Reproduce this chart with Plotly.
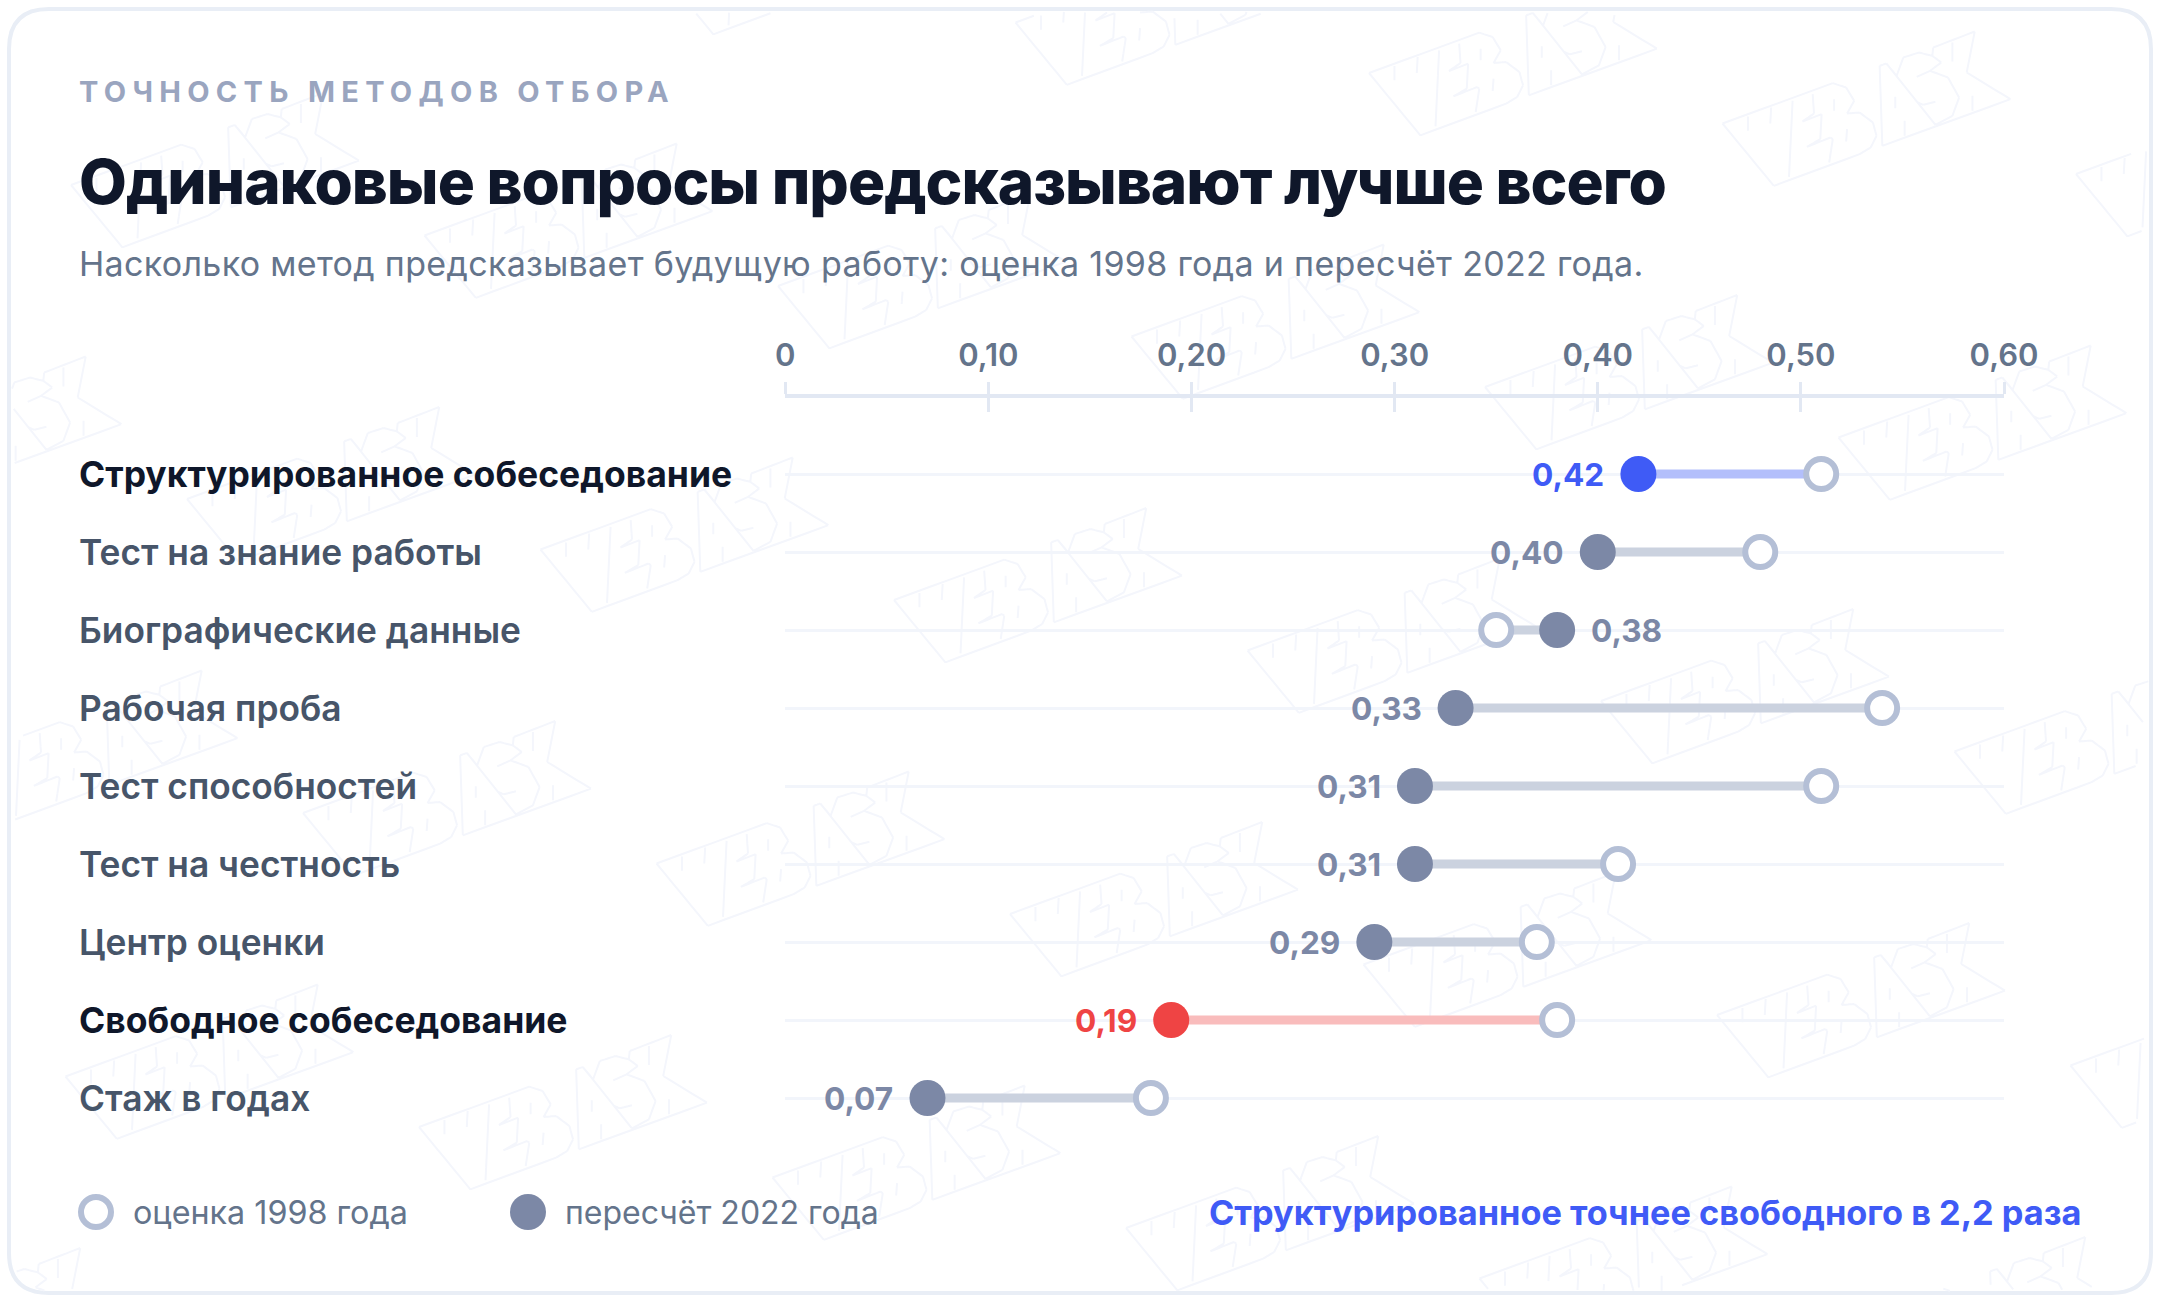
import json
import plotly.graph_objects as go

W, H = 2160, 1302

# ---------- data ----------
methods = ["Структурированное собеседование", "Тест на знание работы", "Биографические данные",
           "Рабочая проба", "Тест способностей", "Тест на честность", "Центр оценки",
           "Свободное собеседование", "Стаж в годах"]
est_1998 = [0.51, 0.48, 0.35, 0.54, 0.51, 0.41, 0.37, 0.38, 0.18]
rec_2022 = [0.42, 0.40, 0.38, 0.33, 0.31, 0.31, 0.29, 0.19, 0.07]
tick_vals = [0, 0.1, 0.2, 0.3, 0.4, 0.5, 0.6]
tick_text = ["0", "0,10", "0,20", "0,30", "0,40", "0,50", "0,60"]

BLUE, RED, SLATE = "#3f5bf6", "#ef4444", "#7c88a6"
dot_colors = [BLUE, SLATE, SLATE, SLATE, SLATE, SLATE, SLATE, RED, SLATE]
link_colors = ["#b3bffb", "#cbd2df", "#cbd2df", "#cbd2df", "#cbd2df", "#cbd2df", "#cbd2df", "#f9bcbc", "#cbd2df"]
RING = "#b4bfd6"
GRID = "#f2f5fb"
AXIS = "#e2e8f3"
FONT = "Inter"

TITLE = "Одинаковые вопросы предсказывают лучше всего"
EYEBROW = "ТОЧНОСТЬ МЕТОДОВ ОТБОРА"
SUB = "Насколько метод предсказывает будущую работу: оценка 1998 года и пересчёт 2022 года."
spacing = {EYEBROW: "6.3px", TITLE: "-1px", SUB: "0.33px"}


def px(x):
    return x / W


def py(y):
    return 1 - y / H


fig = go.Figure()

# connectors
for m, a, b, c in zip(methods, est_1998, rec_2022, link_colors):
    fig.add_trace(go.Scatter(x=[a, b], y=[m, m], mode="lines", line=dict(color=c, width=9),
                             showlegend=False, hoverinfo="skip"))
# dots
fig.add_trace(go.Scatter(x=est_1998, y=methods, mode="markers", name="оценка 1998 года", showlegend=False,
                         marker=dict(size=30, color="white", line=dict(color=RING, width=6)), cliponaxis=False))
fig.add_trace(go.Scatter(x=rec_2022, y=methods, mode="markers", name="пересчёт 2022 года", showlegend=False,
                         marker=dict(size=36, color=dot_colors, line=dict(width=0)), cliponaxis=False))
# second axis only carries the lower half of the ticks
fig.add_trace(go.Scatter(x=[0], y=[methods[0]], xaxis="x2", mode="markers", marker=dict(opacity=0),
                         showlegend=False, hoverinfo="skip"))

ann = []


def text(x, y, s, size, color, weight=400, anchor="left"):
    ann.append(dict(x=px(x), y=py(y), xref="paper", yref="paper", text=s, showarrow=False, xanchor=anchor,
                    yanchor="middle", align=anchor, font=dict(family=FONT, size=size, color=color, weight=weight)))


text(76.6, 92, EYEBROW, 29, "#9aa5bf", 700)
text(76.6, 182, TITLE, 62, "#0f172a", 800)
text(76.6, 263, SUB, 34, "#64748b", 400)

for i, m in enumerate(methods):
    strong = dot_colors[i] != SLATE
    ann.append(dict(x=px(76.6), y=m, xref="paper", yref="y", text=m, showarrow=False, xanchor="left", yanchor="middle",
                    font=dict(family=FONT, size=35.5 if strong else 35.3, color="#0f172a" if strong else "#475569",
                              weight=700 if strong else 600)))
    right = rec_2022[i] > est_1998[i]
    ann.append(dict(x=rec_2022[i], y=m, xref="x", yref="y", text=f"{rec_2022[i]:.2f}".replace(".", ","),
                    showarrow=False, xanchor="left" if right else "right", yanchor="middle",
                    xshift=32 if right else -32,
                    font=dict(family=FONT, size=31.6, color=dot_colors[i], weight=700)))

text(130.5, 1212, "оценка 1998 года", 32.3, "#64748b", 400)
text(562.5, 1212, "пересчёт 2022 года", 32, "#64748b", 400)
text(2083, 1212, "Структурированное точнее свободного в 2,2 раза", 34.3, BLUE, 700, "right")

shapes = []


def P(x, y):
    return f"{px(x):.5f},{py(y):.5f}"


# card
x0, y0, x1, y1, r = 9, 9, 2151, 1293, 40
card = (f"M{P(x0 + r, y0)} L{P(x1 - r, y0)} Q{P(x1, y0)} {P(x1, y0 + r)} L{P(x1, y1 - r)} Q{P(x1, y1)} {P(x1 - r, y1)} "
        f"L{P(x0 + r, y1)} Q{P(x0, y1)} {P(x0, y1 - r)} L{P(x0, y0 + r)} Q{P(x0, y0)} {P(x0 + r, y0)} Z")
shapes.append(dict(type="path", xref="paper", yref="paper", path=card, line=dict(color="#e9eef6", width=4),
                   fillcolor="white", layer="below"))

# background logo outline, one tile (in crop units)
web = [[(43, 218), (290, 97), (320, 110), (338, 150), (322, 188), (350, 185), (380, 215), (388, 255), (375, 290),
        (350, 310), (158, 405), (43, 218)],
       [(100, 197), (100, 240)], [(152, 170), (150, 218)], [(200, 150), (192, 378)],
       [(245, 130), (248, 188), (222, 212), (265, 190), (262, 265), (232, 288), (285, 260), (290, 265), (282, 335)],
       [(293, 145), (293, 180)], [(322, 235), (320, 272)]]
ask = [[(1193, 435), (1187, 195), (1202, 188), (1225, 225), (1240, 170), (1275, 155), (1305, 165), (1307, 140),
        (1400, 92), (1382, 215), (1480, 295), (1193, 435)],
       [(1202, 188), (1312, 372)], [(1222, 288), (1222, 322)], [(1243, 360), (1243, 405)],
       [(1270, 228), (1300, 210), (1340, 230), (1365, 290), (1350, 345), (1312, 372)],
       [(1270, 303), (1285, 312), (1312, 303)], [(1305, 165), (1325, 185), (1300, 210)],
       [(1350, 125), (1350, 182)], [(1395, 285), (1395, 330)]]
tile = [[((a - 43) / 2.24, (b - 218) / 3) for a, b in poly] for poly in web]
tile += [[((a - 835) / 2.24, (b - 368) / 3) for a, b in poly] for poly in ask]


def inside(x, y):
    m, R = 11, 38
    if not (m <= x <= W - m and m <= y <= H - m):
        return False
    cx = min(max(x, m + R), W - m - R)
    cy = min(max(y, m + R), H - m - R)
    return (x - cx) ** 2 + (y - cy) ** 2 <= R ** 2


segs = []
for i in range(-8, 9):
    for j in range(-3, 6):
        ox, oy = 1369 + i * 353.5 + j * 116, 73 + i * 50.5 + j * 314
        if not (-320 < ox < W + 20 and -100 < oy < H + 150):
            continue
        for poly in tile:
            prev = None
            for (a, b) in poly:
                a, b = a + ox, b + oy
                if prev is None:
                    prev = (a, b)
                    continue
                n = 6
                for k in range(1, n + 1):
                    q0 = (prev[0] + (a - prev[0]) * (k - 1) / n, prev[1] + (b - prev[1]) * (k - 1) / n)
                    q1 = (prev[0] + (a - prev[0]) * k / n, prev[1] + (b - prev[1]) * k / n)
                    if inside(*q0) and inside(*q1):
                        segs.append("M" + P(*q0) + " L" + P(*q1))
                prev = (a, b)
shapes.append(dict(type="path", xref="paper", yref="paper", path=" ".join(segs),
                   line=dict(color="#f4f6fc", width=2), layer="below"))

# legend swatches
shapes.append(dict(type="circle", xref="paper", yref="paper", x0=px(96 - 15), x1=px(96 + 15), y0=py(1212 + 15),
                   y1=py(1212 - 15), line=dict(color=RING, width=6), fillcolor="white", layer="above"))
shapes.append(dict(type="circle", xref="paper", yref="paper", x0=px(528 - 18), x1=px(528 + 18), y0=py(1212 + 18),
                   y1=py(1212 - 18), line=dict(width=0), fillcolor=SLATE, layer="above"))

dom_x = [785.3 / W, 2004 / W]
fig.update_layout(
    width=W, height=H, autosize=False, margin=dict(l=0, r=0, t=0, b=0, pad=0),
    paper_bgcolor="white", plot_bgcolor="rgba(0,0,0,0)", showlegend=False,
    annotations=ann, shapes=shapes, hovermode=False,
    xaxis=dict(domain=dom_x, range=[0, 0.6], side="top", anchor="y", tickmode="array", tickvals=tick_vals,
               ticktext=tick_text, ticks="outside", ticklen=12, tickwidth=3, tickcolor=AXIS, showline=True,
               linecolor=AXIS, linewidth=4, showgrid=False, zeroline=False, ticklabelstandoff=4, automargin=False,
               tickfont=dict(family=FONT, size=31, color="#64748b", weight=600)),
    xaxis2=dict(domain=dom_x, range=[0, 0.6], overlaying="x", side="top", anchor="y", tickmode="array",
                tickvals=tick_vals, showticklabels=False, ticks="inside", ticklen=14, tickwidth=3, tickcolor=AXIS,
                showline=False, showgrid=False, zeroline=False, automargin=False),
    yaxis=dict(domain=[py(1137), py(398)], range=[8.5, -1 + 2 / 78], type="category", categoryorder="array",
               categoryarray=methods, showgrid=True, gridcolor=GRID, gridwidth=3, showticklabels=False,
               ticks="", showline=False, zeroline=False, automargin=False),
)

post = ("document.documentElement.style.margin='0';document.body.style.margin='0';document.body.style.overflow='hidden';"
        "var sp=" + json.dumps(spacing, ensure_ascii=False) + ";"
        "document.querySelectorAll('.annotation-text').forEach(function(t){var k=t.textContent;"
        "if(sp[k]){t.style.letterSpacing=sp[k];}});")
fig.write_html("out.html", post_script=post, config={"displayModeBar": False})
